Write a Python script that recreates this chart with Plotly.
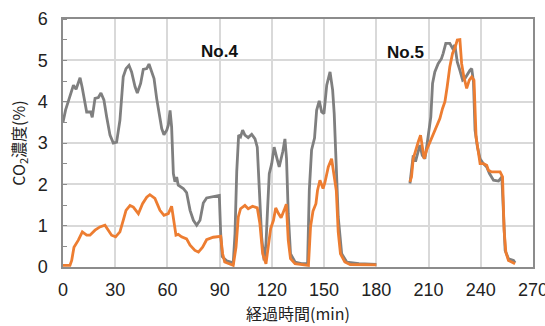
import plotly.graph_objects as go

# ---- data (minutes, CO2 %) ----
gray4_t = [0, 1.5, 3, 4.5, 6, 7.5, 8.5, 9.8, 11, 11.7, 13.6, 15.9, 16.8, 18.4, 20.3, 21.8, 23.5, 25.1, 27, 28.9,
           30.8, 32.7, 34.6, 36.2, 37.9, 39.4, 41.4, 42.7, 44.6, 46.1, 48.1, 49.4, 50.9, 52.3, 53.8, 55.1, 56.7, 58,
           59.6, 60.5, 61.5, 62.4, 63.4, 64.3, 65.3, 66.2, 69.1, 71, 73, 74.9, 76.8, 78.7, 80.6, 82.5, 86.3, 89.8,
           90.6, 91.5, 94, 97.8, 98.8, 99.8, 100.9, 102, 103.2, 104.5, 106.4, 108.4, 110.3, 111.6, 112.8, 114.1,
           115.5, 116.6, 117.4, 118.5, 119.9, 121.3, 122.7, 124.2, 126.3, 127.5, 128.4, 129.4, 130.7, 133.3, 137,
           140.5, 141.5, 142.8, 144.5, 145.7, 147.2, 148.6, 149.9, 151.5, 153.4, 154.9, 155.8, 157.2, 158.1, 160.1,
           163, 170, 180]
gray4_v = [3.5, 3.8, 4.0, 4.2, 4.4, 4.3, 4.45, 4.58, 4.35, 4.16, 3.75, 3.75, 3.62, 4.08, 4.1, 4.21, 4.04, 3.63, 3.19, 3.0,
           3.02, 3.55, 4.6, 4.8, 4.88, 4.72, 4.36, 4.21, 4.44, 4.78, 4.8, 4.91, 4.72, 4.56, 4.08, 3.79, 3.35, 3.2,
           3.31, 3.43, 3.79, 3.39, 2.26, 2.06, 2.18, 1.98, 1.9, 1.8, 1.37, 1.13, 1.01, 1.13, 1.55, 1.67, 1.7, 1.73,
           0.8, 0.25, 0.15, 0.1, 0.8, 2.3, 3.19, 3.15, 3.31, 3.19, 3.13, 3.21, 3.1, 2.9, 1.86, 0.73,
           0.16, 0.56, 1.29, 2.26, 2.5, 2.9, 2.66, 2.42, 2.8, 3.1, 2.63, 1.29, 0.32, 0.12, 0.08,
           0.08, 1.86, 2.83, 3.12, 3.79, 4.02, 3.75, 3.71, 4.4, 4.72, 4.28, 3.71, 2.42, 1.21, 0.32,
           0.12, 0.08, 0.06]

orange4_t = [0, 4, 5, 6.3, 8.8, 11.1, 13.6, 15.5, 18.4, 21.2, 24.1, 26, 27.9, 30.2, 32.7, 34.6, 36.2, 38.5, 40.4, 43.3,
             45.7, 48.1, 49.9, 52.8, 55.7, 58, 60.5, 62.4, 63.8, 64.9, 66.2, 68.1, 71, 73, 75.8, 77.8, 80.2, 82.5,
             86.3, 90.6, 91.7, 92.9, 97.8, 99.4, 100.7, 102, 104.5, 106.4, 108.9, 111.6, 113.1, 114.7, 116.6, 118,
             119.3, 120.9, 122.2, 123.7, 125.3, 127, 128.3, 129.4, 130.7, 133.3, 141, 142.2, 143.6, 145.3, 146.2,
             147.6, 149.4, 150.5, 152.4, 154.3, 155.7, 157, 158.1, 159.4, 161.9, 165, 180]
orange4_v = [0.04, 0.04, 0.16, 0.48, 0.65, 0.85, 0.77, 0.77, 0.89, 0.97, 1.01, 0.89, 0.77, 0.73, 0.85, 1.13, 1.37, 1.49, 1.45, 1.29,
             1.53, 1.69, 1.75, 1.66, 1.37, 1.25, 1.29, 1.47, 1.13, 0.77, 0.79, 0.73, 0.68, 0.53, 0.4, 0.36, 0.48, 0.66,
             0.72, 0.74, 0.32, 0.12, 0.04, 0.48, 1.21, 1.41, 1.49, 1.41, 1.47, 1.43, 1.05, 0.32, 0.08, 0.56,
             0.93, 1.13, 1.43, 1.3, 1.19, 1.37, 1.52, 0.65, 0.2, 0.08, 0.04, 0.97, 1.35, 1.53, 1.85,
             2.1, 1.9, 2.05, 2.42, 2.62, 2.18, 1.85, 0.85, 0.32, 0.12, 0.06, 0.05]

gray5_t = [199.3, 200.6, 201.2, 202.5, 204.1, 205, 206.4, 207.9, 209.2, 210.4, 211.3, 212.3, 213.6, 215.5, 217.4, 218.4,
           219.9, 222.2, 223.8, 225.1, 226.5, 228, 229.6, 230.9, 232.5, 233.8, 234.8, 235.8, 236.7, 238.1, 239.6,
           241.5, 243.4, 245, 247.3, 250.2, 252.1, 253, 254, 255.9, 258.8, 259.7]
gray5_v = [2.02, 2.5, 2.7, 2.55, 2.83, 2.95, 2.7, 2.62, 2.99, 3.39, 3.63, 4.44, 4.72, 4.92, 5.04, 5.17,
           5.41, 5.41, 5.29, 5.37, 4.96, 4.76, 4.52, 4.56, 4.68, 4.76, 4.8, 4.48, 3.31, 2.9, 2.62,
           2.5, 2.42, 2.26, 2.1, 2.08, 2.18, 1.21, 0.4, 0.2, 0.16, 0.1]

orange5_t = [199.3, 200.2, 201.2, 202.7, 204.1, 205.4, 206.6, 207.5, 208.9, 210.8, 212.7, 214.6, 216.5, 218, 219.4,
             220.7, 222.2, 223.8, 225.1, 226.5, 228, 229, 230.3, 231.9, 233.4, 234.8, 236.1, 237.3, 238.6, 239.6,
             241.5, 243.4, 244.4, 246.3, 251.1, 252.5, 253.4, 254.4, 255.9, 259.7]
orange5_v = [2.06, 2.18, 2.62, 2.87, 3.03, 3.19, 2.83, 2.62, 2.83, 3.03, 3.19, 3.39, 3.59, 3.83, 4.0,
             4.36, 4.84, 5.17, 5.29, 5.49, 5.5, 4.92, 4.6, 4.32, 4.52, 4.6, 4.52, 3.15, 2.75, 2.5,
             2.5, 2.46, 2.34, 2.3, 2.3, 2.18, 0.89, 0.36, 0.16, 0.08]

x_ticks = [0, 30, 60, 90, 120, 150, 180, 210, 240, 270]
y_ticks = [0, 1, 2, 3, 4, 5, 6]
labels = ["No.4", "No.5"]
label_x = [90, 197]
label_y = [5.22, 5.2]

GRAY = "#7f7f7f"
ORANGE = "#ed7d31"
NARROW = "Liberation Sans Narrow, Liberation Sans, Arial"
CJK = "Noto Sans CJK JP"

fig = go.Figure()
for t, v in [(gray4_t, gray4_v), (gray5_t, gray5_v)]:
    fig.add_trace(go.Scatter(x=t, y=v, mode="lines", line=dict(color=GRAY, width=2.8), showlegend=False))
for t, v in [(orange4_t, orange4_v), (orange5_t, orange5_v)]:
    fig.add_trace(go.Scatter(x=t, y=v, mode="lines", line=dict(color=ORANGE, width=2.8), showlegend=False))

for lab, lx, ly in zip(labels, label_x, label_y):
    fig.add_annotation(x=lx, y=ly, text="<b>" + lab + "</b>", showarrow=False,
                       font=dict(family=NARROW, size=17, color="#111"))

fig.update_layout(
    width=545, height=326,
    margin=dict(l=63, r=12, t=19, b=59),
    plot_bgcolor="white", paper_bgcolor="white",
    font=dict(family=NARROW, size=18, color="#222"),
)
fig.update_xaxes(range=[0, 270], tickvals=x_ticks, showgrid=True, gridcolor="#d9d9d9", gridwidth=1.5,
                 showline=True, linecolor="#8c8c8c", linewidth=1.5, mirror=True, zeroline=False,
                 ticks="outside", ticklen=6, tickcolor="rgba(0,0,0,0)", automargin=False,
                 ticklabeloverflow="allow",
                 title=dict(text="経過時間(min)", font=dict(family=CJK, size=16), standoff=9))
fig.update_yaxes(range=[0, 6], tickvals=y_ticks, showgrid=True, gridcolor="#d9d9d9", gridwidth=1.5,
                 showline=True, linecolor="#8c8c8c", linewidth=1.5, mirror=True, zeroline=False,
                 ticks="outside", ticklen=10, tickcolor="rgba(0,0,0,0)", automargin=False,
                 ticklabeloverflow="allow",
                 minor=dict(dtick=0.5, ticks="inside", ticklen=4, tickcolor="#8c8c8c", showgrid=False),
                 title=dict(text="CO<sub>2</sub>濃度(%)", font=dict(family=CJK, size=16), standoff=8))

# remove the browser's default 8px body margin so the figure fills the window exactly
fig.write_html("out.html", config={"displayModeBar": False},
               post_script="document.body.style.margin='0px';document.body.style.overflow='hidden';")
